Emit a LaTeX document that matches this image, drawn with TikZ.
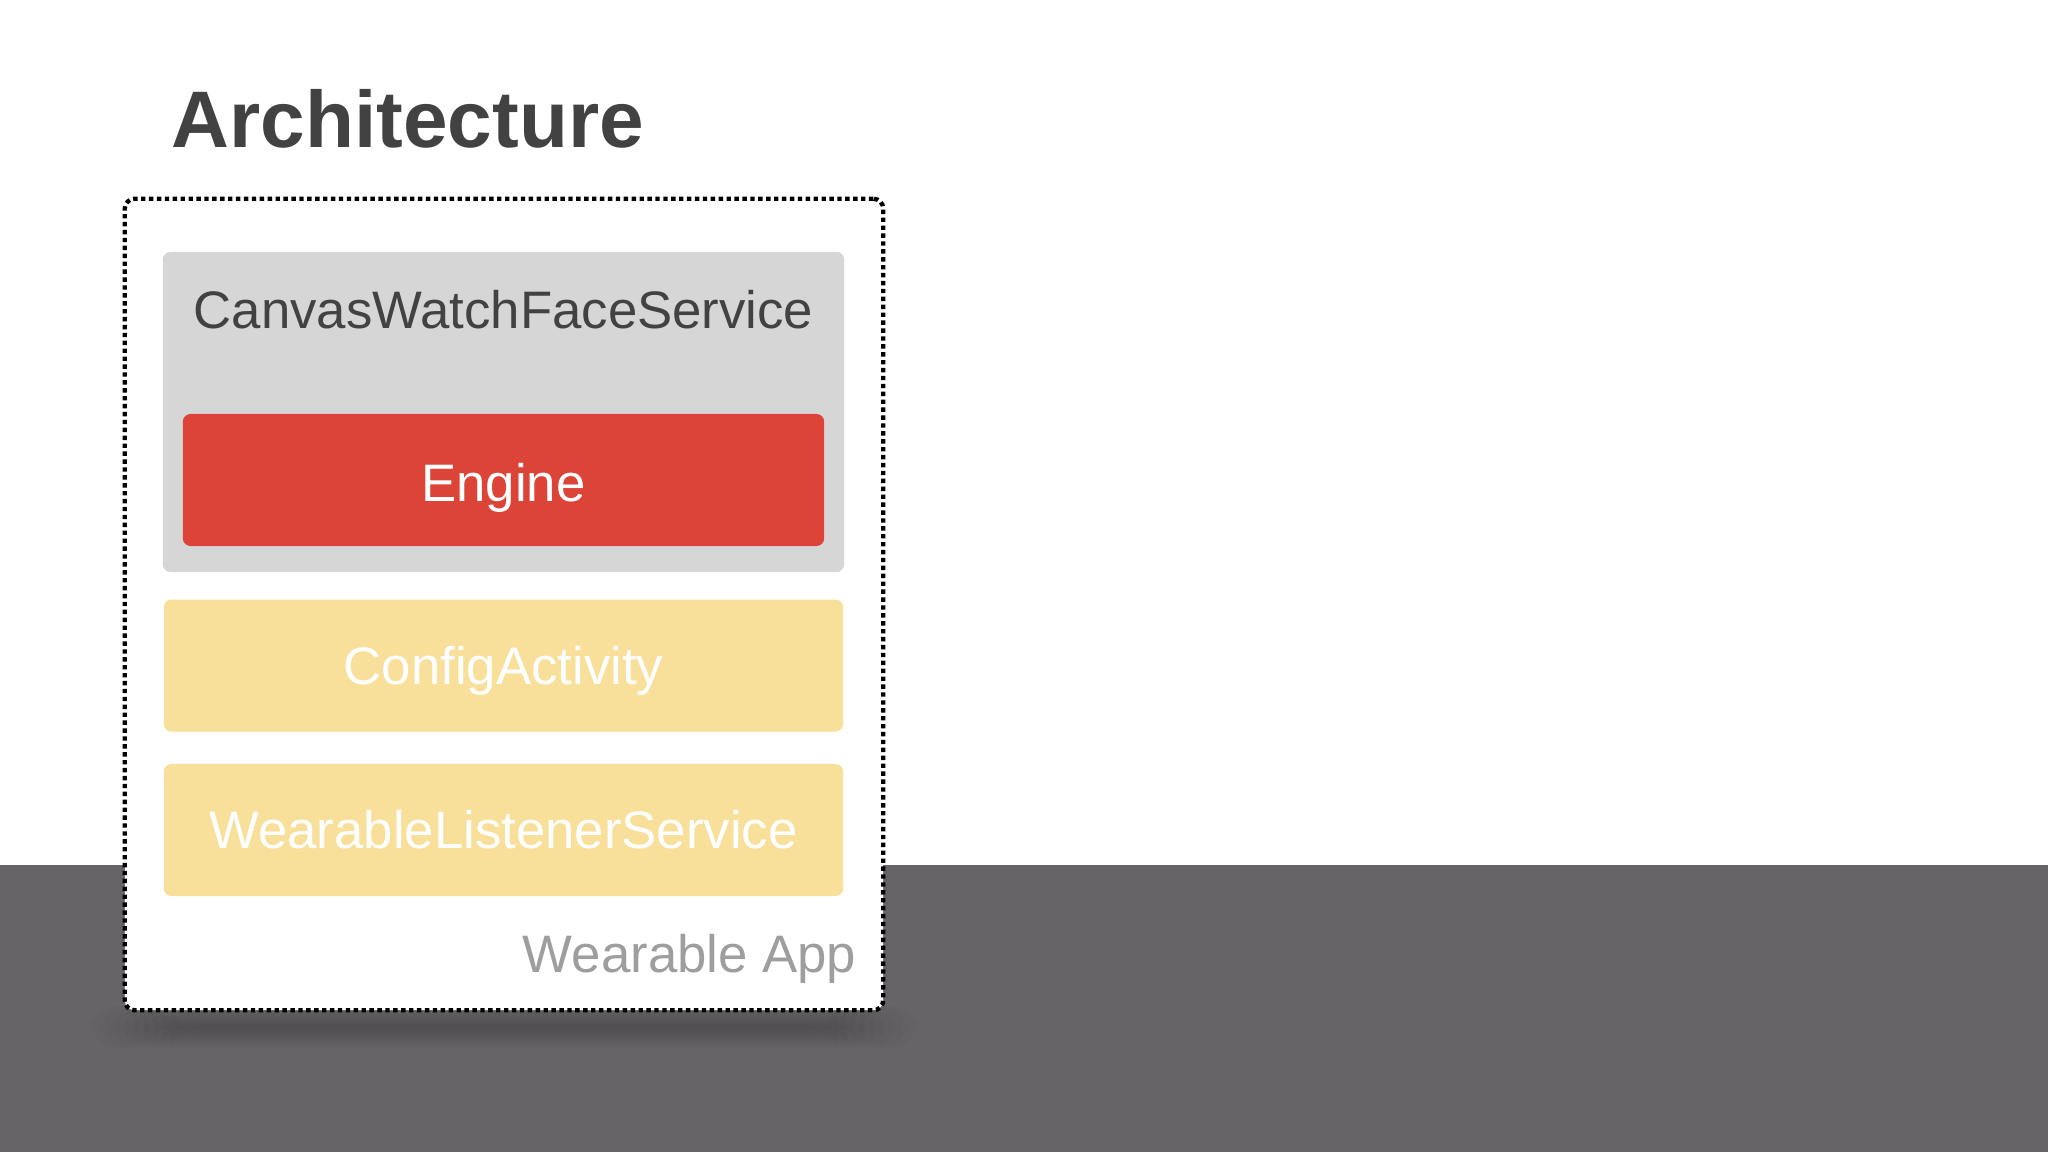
\documentclass[tikz,border=0pt]{standalone}
\usepackage{fontspec}
\setmainfont{Liberation Sans}
\usetikzlibrary{positioning}
\definecolor{inkgray}{HTML}{424242}
\definecolor{panelgray}{HTML}{D6D6D6}
\definecolor{enginered}{HTML}{DB4437}
\definecolor{paleyellow}{HTML}{F8E09A}
\definecolor{bandgray}{HTML}{666467}
\definecolor{notegray}{HTML}{9E9E9E}
\begin{document}
\begin{tikzpicture}[x=0.01cm,y=-0.01cm,
    bodyfont/.style={font=\fontsize{15}{18}\selectfont},
    layer/.style={bodyfont,rounded corners=2.2pt,inner sep=0pt,
      text height=10.7pt,text depth=0pt},
    yellowbox/.style={layer,fill=paleyellow,text=white,
      minimum width=6.79cm,minimum height=1.32cm}]
    \useasboundingbox[fill=white] (0,0) rectangle (2048,1152);
    \fill[bandgray] (0,865) rectangle (2048,1152);
    % soft shadow under the app frame
    \foreach \k in {0,...,9}
      \fill[black,opacity=0.02,rounded corners=8pt]
        (90+\k*9,1006+\k*2) rectangle (918-\k*9,1048-\k*2);
    \node[draw,fill=white,line width=1.25pt,dash pattern=on 1.25pt off 1pt,
      rounded corners=2.8pt,minimum width=7.58cm,minimum height=8.11cm]
      (app) at (504,604.5) {};
    \node[font=\fontsize{22.8}{27}\selectfont\bfseries,text=inkgray,
      anchor=base west,inner sep=0pt] (title) at (171,148) {Architecture};
    % service panel with its engine
    \node[layer,fill=panelgray,minimum width=6.81cm,minimum height=3.2cm]
      (service) at (503.5,412) {};
    \node[bodyfont,text=inkgray,anchor=base,inner sep=0pt]
      (servicelbl) at (503.5,329) {CanvasWatchFaceService};
    \node[layer,fill=enginered,text=white,minimum width=6.41cm,
      minimum height=1.32cm,text height=12pt] (engine) at (503.5,480) {Engine};
    \node[yellowbox,below=0.26cm of service] (config) {ConfigActivity};
    \node[yellowbox,below=0.31cm of config] (listener) {WearableListenerService};
    \node[bodyfont,text=notegray,anchor=base east,inner sep=0pt]
      (applbl) at (857,972) {Wearable App};
  \end{tikzpicture}
\end{document}
